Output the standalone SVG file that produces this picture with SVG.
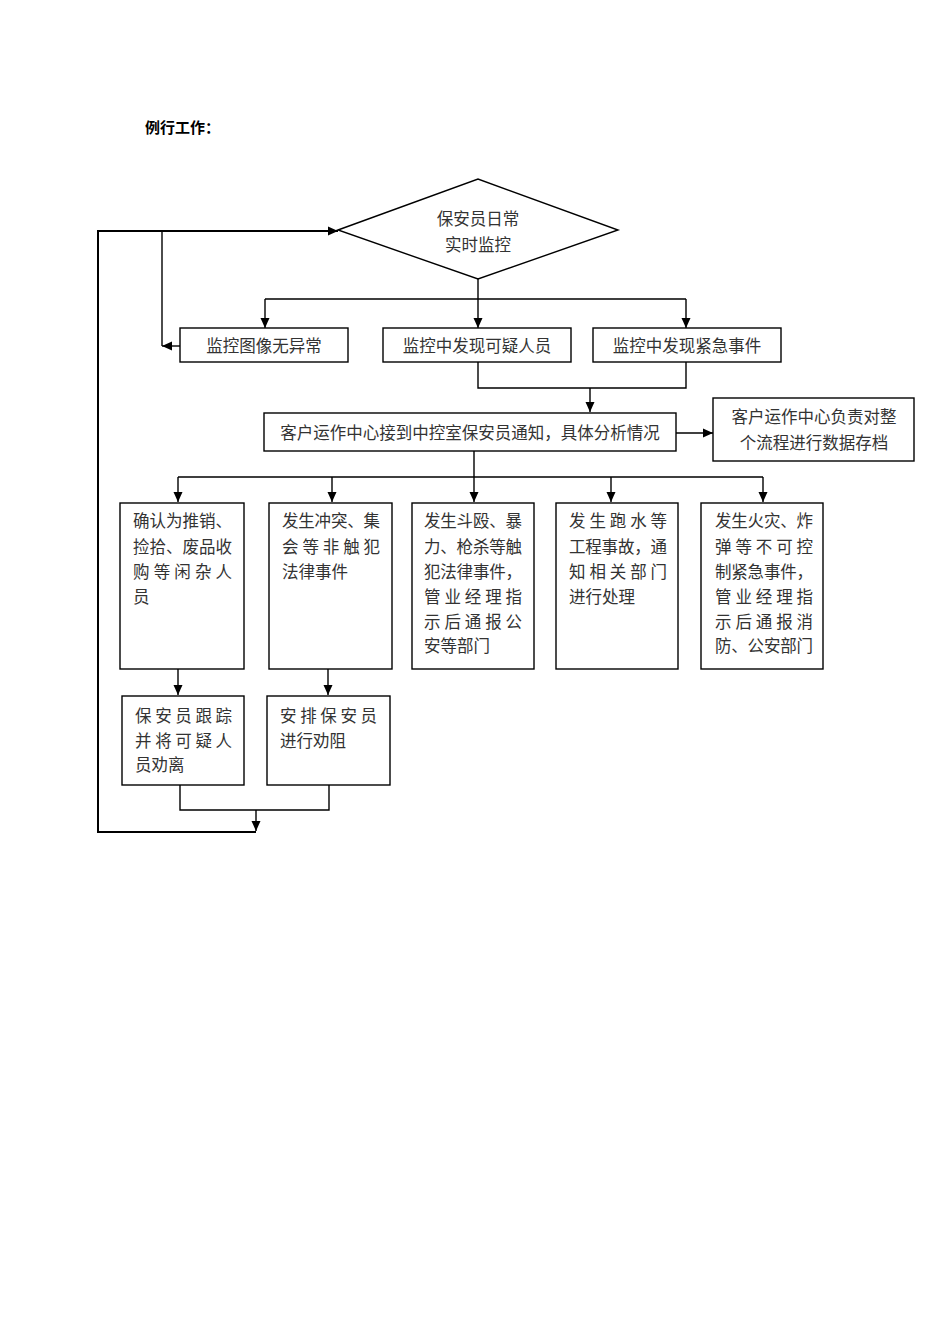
<svg xmlns="http://www.w3.org/2000/svg" width="950" height="1344" viewBox="0 0 950 1344">
<defs>
<marker id="ah" markerUnits="userSpaceOnUse" markerWidth="10" markerHeight="10" viewBox="0 0 10 10" refX="10" refY="5" orient="auto">
<path d="M0,0.5 L10,5 L0,9.5 Z" fill="#000"/>
</marker>
<style>
.box{fill:#fff;stroke:#000;stroke-width:1.4}
.ln{fill:none;stroke:#000;stroke-width:1.4}
.ar{fill:none;stroke:#000;stroke-width:1.4;marker-end:url(#ah)}
.thick{stroke-width:2}
text{font-family:"Liberation Serif","Noto Sans CJK SC",serif;font-size:16.5px;fill:#333}
.c{text-anchor:middle}
.t{font-family:"Liberation Sans","Noto Sans CJK SC",sans-serif;font-weight:bold;font-size:15px;fill:#000}
</style>
</defs>
<rect width="950" height="1344" fill="#fff"/>
<text class="t" x="145" y="133">例行工作：</text>

<g id="connectors">
<path class="ar thick" d="M256,832 L98,832 L98,231 L338,231"/>
<path class="ar" d="M180,346 L162,346"/>
<path class="ln" d="M162,346 L162,231"/>
<path class="ln" d="M478,279 L478,299 M265,299 L686,299"/>
<path class="ar" d="M265,299 L265,328"/>
<path class="ar" d="M478,299 L478,328"/>
<path class="ar" d="M686,299 L686,328"/>
<path class="ln" d="M478,362 L478,388 L686,388 L686,362"/>
<path class="ar" d="M590,388 L590,412"/>
<path class="ar" d="M676,433 L713,433"/>
<path class="ln" d="M474,451 L474,477 M178,477 L763,477"/>
<path class="ar" d="M178,477 L178,502"/>
<path class="ar" d="M332,477 L332,502"/>
<path class="ar" d="M474,477 L474,502"/>
<path class="ar" d="M611,477 L611,502"/>
<path class="ar" d="M763,477 L763,502"/>
<path class="ar" d="M178,669 L178,695"/>
<path class="ar" d="M328,669 L328,695"/>
<path class="ln" d="M180,785 L180,810 L329,810 L329,785"/>
<path class="ar" d="M256,810 L256,831"/>
</g>

<g id="start">
<polygon class="box" points="338,230 478,179 618,230 478,279"/>
<text class="c" x="478" y="225">保安员日常</text>
<text class="c" x="478" y="251">实时监控</text>
</g>

<g id="normal">
<rect class="box" x="180" y="328" width="168" height="34"/>
<text class="c" x="264" y="352">监控图像无异常</text>
</g>
<g id="suspect">
<rect class="box" x="383" y="328" width="188" height="34"/>
<text class="c" x="477" y="352">监控中发现可疑人员</text>
</g>
<g id="emergency">
<rect class="box" x="593" y="328" width="188" height="34"/>
<text class="c" x="687" y="352">监控中发现紧急事件</text>
</g>

<g id="center">
<rect class="box" x="264" y="413" width="412" height="38"/>
<text class="c" x="470" y="439">客户运作中心接到中控室保安员通知，具体分析情况</text>
</g>
<g id="archive">
<rect class="box" x="713" y="398" width="201" height="63"/>
<text class="c" x="814" y="423">客户运作中心负责对整</text>
<text class="c" x="814" y="449">个流程进行数据存档</text>
</g>

<g id="idle">
<rect class="box" x="120" y="503" width="124" height="166"/>
<text x="133" y="527" textLength="99" lengthAdjust="spacing">确认为推销、</text>
<text x="133" y="553" textLength="99" lengthAdjust="spacing">捡拾、废品收</text>
<text x="133" y="578" textLength="99" lengthAdjust="spacing">购等闲杂人</text>
<text x="133" y="603">员</text>
</g>
<g id="conflict">
<rect class="box" x="269" y="503" width="123" height="166"/>
<text x="282" y="527" textLength="98" lengthAdjust="spacing">发生冲突、集</text>
<text x="282" y="553" textLength="98" lengthAdjust="spacing">会等非触犯</text>
<text x="282" y="578">法律事件</text>
</g>
<g id="crime">
<rect class="box" x="412" y="503" width="122" height="166"/>
<text x="424" y="527" textLength="98" lengthAdjust="spacing">发生斗殴、暴</text>
<text x="424" y="553" textLength="98" lengthAdjust="spacing">力、枪杀等触</text>
<text x="424" y="578" textLength="98" lengthAdjust="spacing">犯法律事件，</text>
<text x="424" y="603" textLength="98" lengthAdjust="spacing">管业经理指</text>
<text x="424" y="628" textLength="98" lengthAdjust="spacing">示后通报公</text>
<text x="424" y="652">安等部门</text>
</g>
<g id="engineering">
<rect class="box" x="556" y="503" width="122" height="166"/>
<text x="569" y="527" textLength="98" lengthAdjust="spacing">发生跑水等</text>
<text x="569" y="553" textLength="98" lengthAdjust="spacing">工程事故，通</text>
<text x="569" y="578" textLength="98" lengthAdjust="spacing">知相关部门</text>
<text x="569" y="603">进行处理</text>
</g>
<g id="fire">
<rect class="box" x="701" y="503" width="122" height="166"/>
<text x="715" y="527" textLength="98" lengthAdjust="spacing">发生火灾、炸</text>
<text x="715" y="553" textLength="98" lengthAdjust="spacing">弹等不可控</text>
<text x="715" y="578" textLength="98" lengthAdjust="spacing">制紧急事件，</text>
<text x="715" y="603" textLength="98" lengthAdjust="spacing">管业经理指</text>
<text x="715" y="628" textLength="98" lengthAdjust="spacing">示后通报消</text>
<text x="715" y="652" textLength="98" lengthAdjust="spacing">防、公安部门</text>
</g>

<g id="track">
<rect class="box" x="122" y="696" width="122" height="89"/>
<text x="135" y="722" textLength="97" lengthAdjust="spacing">保安员跟踪</text>
<text x="135" y="747" textLength="97" lengthAdjust="spacing">并将可疑人</text>
<text x="135" y="771">员劝离</text>
</g>
<g id="dissuade">
<rect class="box" x="267" y="696" width="123" height="89"/>
<text x="280" y="722" textLength="97" lengthAdjust="spacing">安排保安员</text>
<text x="280" y="747">进行劝阻</text>
</g>
</svg>
